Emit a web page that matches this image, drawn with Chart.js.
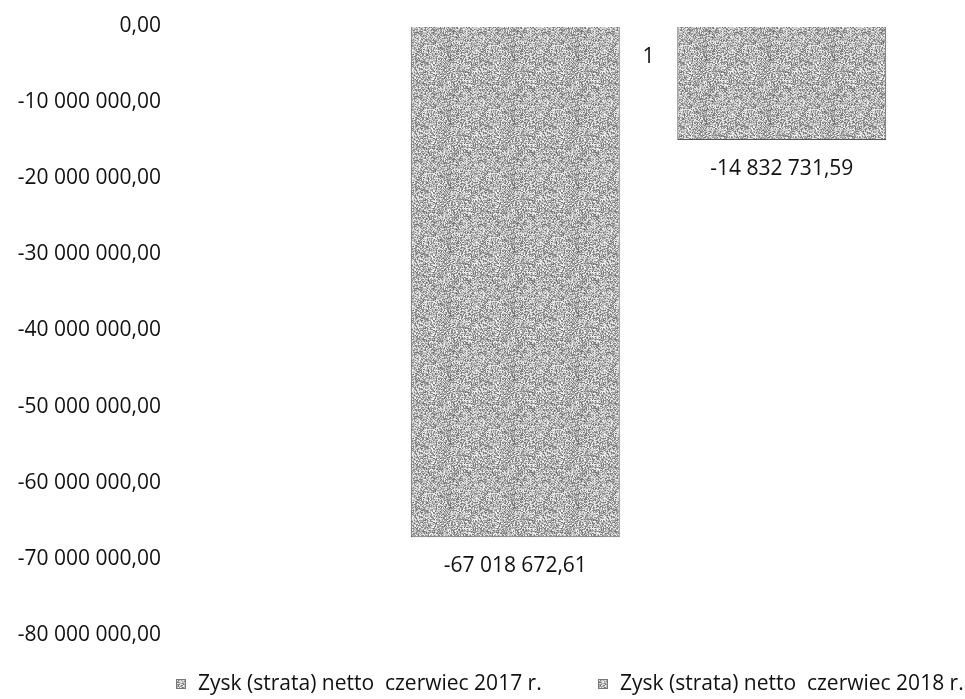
<!DOCTYPE html>
<html lang="pl">
<head>
<meta charset="utf-8">
<title>Zysk (strata) netto</title>
<script src="https://cdn.jsdelivr.net/npm/chart.js@4.4.1/dist/chart.umd.min.js"></script>
<style>
  html, body { margin: 0; padding: 0; background: #fff; }
  #wrap { position: relative; width: 965px; height: 699px; overflow: hidden; }
  #wykres { position: absolute; left: 0; top: 0; }
  .legend-item {
    position: absolute; top: 668px;
    font: 21px 'Open Sans', sans-serif; color: #111;
    white-space: pre; line-height: 28px;
  }
  .legend-item i {
    display: inline-block; width: 10px; height: 10px;
    margin-right: 12px; vertical-align: 1px;
    border: 1px solid #777; box-sizing: border-box;
  }
</style>
</head>
<body>
<div id="wrap">
  <canvas id="wykres" width="965" height="699"></canvas>
  <div id="legenda"></div>
</div>
<script>
'use strict';

// Dane wykresu
const categories = ['1'];
const seriesLabels = ['Zysk (strata) netto  czerwiec 2017 r.', 'Zysk (strata) netto  czerwiec 2018 r.'];
const values2017 = [-67018672.61];
const values2018 = [-14832731.59];
const yMin = -80000000;
const yMax = 0;
const yStep = 10000000;

// Format liczby po polsku: spacje tysięcy, przecinek dziesiętny
function fmt(v) {
    const neg = v < 0;
    let [i, d] = Math.abs(v).toFixed(2).split('.');
    i = i.replace(/\B(?=(\d{3})+(?!\d))/g, ' ');
    return (neg ? '-' : '') + i + ',' + d;
}

// Szara "ziarnista" tekstura słupków (stałe ziarno, zawsze ten sam wzór)
function makeTexture() {
    const c = document.createElement('canvas');
    c.width = 64; c.height = 64;
    const g = c.getContext('2d');
    let seed = 12345;
    for (let y = 0; y < 64; y++) {
        for (let x = 0; x < 64; x++) {
            seed = (seed * 1103515245 + 12345) & 0x7fffffff;
            const v = 110 + ((seed >> 8) % 140);
            g.fillStyle = `rgb(${v},${v},${v})`;
            g.fillRect(x, y, 1, 1);
        }
    }
    return c;
}
const texture = makeTexture();
const ctx = document.getElementById('wykres').getContext('2d');
const barFill = ctx.createPattern(texture, 'repeat');

const font = { family: "'Open Sans', sans-serif", size: 21 };

// Etykiety wartości pod słupkami i etykieta kategorii przy osi 0
const labelsPlugin = {
    id: 'etykiety',
    afterDatasetsDraw(chart) {
        const c = chart.ctx;
        const xs = chart.scales.x, ys = chart.scales.y;
        c.save();
        c.font = `${font.size}px ${font.family}`;
        c.fillStyle = '#111';
        c.textAlign = 'center';
        c.textBaseline = 'middle';
        chart.data.datasets.forEach((ds, di) => {
            chart.getDatasetMeta(di).data.forEach((bar, i) => {
                c.fillText(fmt(ds.data[i]), bar.x, bar.y + 29);
            });
        });
        chart.data.labels.forEach((lab, i) => {
            c.fillText(lab, xs.getPixelForTick(i), ys.getPixelForValue(0) + 30);
        });
        c.restore();
    }
};

const barStyle = {
    backgroundColor: barFill,
    borderColor: '#555',
    borderWidth: 1,
    categoryPercentage: 1,
    barPercentage: 0.784
};

new Chart(ctx, {
    type: 'bar',
    data: {
        labels: categories,
        datasets: [
            { label: seriesLabels[0], data: values2017, ...barStyle },
            { label: seriesLabels[1], data: values2018, ...barStyle }
        ]
    },
    options: {
        responsive: false,
        animation: false,
        devicePixelRatio: 1,
        layout: { padding: { top: 27, right: 50, bottom: 63, left: 0 } },
        plugins: {
            legend: { display: false },
            tooltip: { enabled: false },
            colors: { enabled: false }
        },
        scales: {
            x: { display: false },
            y: {
                min: yMin,
                max: yMax,
                grid: { display: false, drawTicks: false },
                border: { display: false },
                ticks: {
                    stepSize: yStep,
                    font: font,
                    color: '#111',
                    padding: 221,
                    labelOffset: -1,
                    callback: v => fmt(v)
                },
                // szeroka oś: etykiety przy lewej, słupki dopiero od x=382
                afterFit: s => {
                    s.width = 382;
                    s.paddingTop = 14;
                    s.paddingBottom = 14;
                }
            }
        }
    },
    plugins: [labelsPlugin]
});

// Legenda jako zwykły tekst HTML
const legendX = [176, 598];
const legendBox = document.getElementById('legenda');
seriesLabels.forEach((t, i) => {
    const item = document.createElement('div');
    item.className = 'legend-item';
    item.style.left = legendX[i] + 'px';
    const sw = document.createElement('i');
    sw.style.backgroundImage = `url(${texture.toDataURL()})`;
    item.appendChild(sw);
    item.appendChild(document.createTextNode(t));
    legendBox.appendChild(item);
});
</script>
</body>
</html>
